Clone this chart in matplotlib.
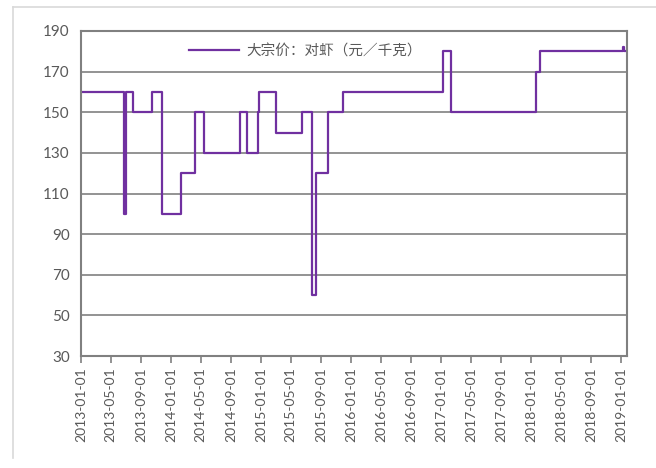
import matplotlib
matplotlib.use("Agg")
import matplotlib.pyplot as plt
import matplotlib.dates as mdates
import pandas as pd
from matplotlib.lines import Line2D

plt.rcParams['font.family'] = ['Lato', 'Noto Sans CJK SC', 'DejaVu Sans']

dates = ['2013-01-01', '2013-06-24', '2013-07-01', '2013-07-29', '2013-10-15',
         '2013-11-25', '2014-02-10', '2014-04-09', '2014-05-13', '2014-10-06',
         '2014-11-07', '2014-12-18', '2014-12-24', '2015-03-01', '2015-06-17',
         '2015-07-27', '2015-08-10', '2015-09-29', '2015-11-30', '2017-01-09',
         '2017-02-08', '2018-01-22', '2018-02-04', '2019-01-07', '2019-01-11',
         '2019-01-24']
values = [160, 100, 160, 150, 160, 100, 120, 150, 130, 150, 130, 150, 160, 140,
          150, 60, 120, 150, 160, 180, 150, 170, 180, 182, 180, 180]
series_name = '大宗价：对虾（元／千克）'
yticks = [30, 50, 70, 90, 110, 130, 150, 170, 190]
xtick_labels = pd.date_range('2013-01-01', '2019-01-01', freq='4MS')

x = pd.to_datetime(dates)

fig = plt.figure(figsize=(6.56, 4.68), dpi=100)
ax = fig.add_axes([81/656, 1-356/468, (627-81)/656, (356-31)/468])

line_color = '#7030A0'
grid_color = '#808080'
text_color = '#595959'

ax.plot(x, values, drawstyle='steps-post', color=line_color, lw=1.6)

ax.set_ylim(30, 190)
ax.set_yticks(yticks)
ax.set_xlim(pd.Timestamp('2013-01-01'), pd.Timestamp('2019-01-24'))
ax.set_xticks(xtick_labels)
ax.set_xticklabels([d.strftime('%Y-%m-%d') for d in xtick_labels], rotation=90)

ax.yaxis.grid(True, color=grid_color, lw=1.2)
ax.set_axisbelow(True)
for s in ax.spines.values():
    s.set_color(grid_color)
    s.set_linewidth(1.5)

ax.tick_params(axis='y', length=0, labelsize=11, colors=text_color, pad=8)
ax.tick_params(axis='x', length=5, width=1.2, color=grid_color, labelsize=10,
               labelcolor=text_color, pad=3)

handle = Line2D([], [], color=line_color, lw=1.6)
leg = ax.legend([handle], [series_name], loc='upper left',
                bbox_to_anchor=(0.174, 1.0), frameon=False,
                prop={'family': ['Noto Sans CJK SC', 'DejaVu Sans'], 'size': 10.5},
                handlelength=3.4, handletextpad=0.55)
for t in leg.get_texts():
    t.set_color(text_color)

# light outer frame (left & top)
fig.add_artist(Line2D([13/656, 13/656], [1-458/468, 1-7/468], color='#d9d9d9', lw=1.2))
fig.add_artist(Line2D([13/656, 1.0], [1-7/468, 1-7/468], color='#d9d9d9', lw=1.2))

fig.savefig('out.png', dpi=100)
